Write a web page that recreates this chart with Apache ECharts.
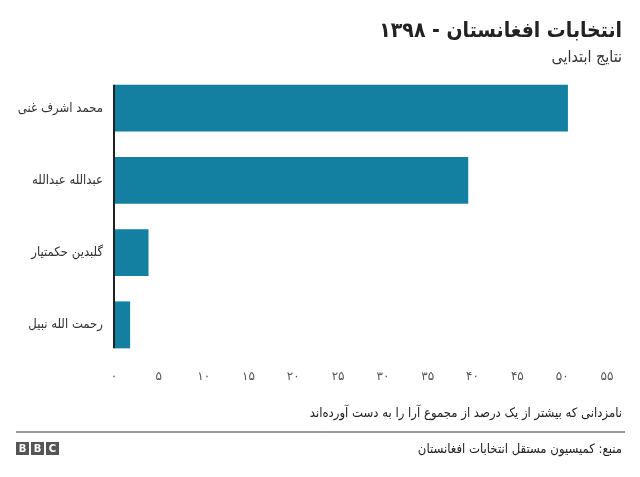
<!DOCTYPE html>
<html>
<head>
<meta charset="utf-8">
<script src="https://cdn.jsdelivr.net/npm/echarts@6/dist/echarts.min.js"></script>
<style>
  html, body { margin: 0; padding: 0; background: #fff; }
  #Chart { width: 640px; height: 477px; }
</style>
</head>
<body>
<div id="Chart"></div>
<script>
// candidates, top to bottom
var categories = ['محمد اشرف غنی', 'عبدالله عبدالله', 'گلبدین حکمتیار', 'رحمت الله نبیل'];
// share of votes, percent
var votes = [50.64, 39.52, 3.85, 1.8];
// x axis labels, 0..55 step 5, Persian digits
var tickLabels = ['۰', '۵', '۱۰', '۱۵', '۲۰', '۲۵', '۳۰', '۳۵', '۴۰', '۴۵', '۵۰', '۵۵'];

var titleText = 'انتخابات افغانستان - ۱۳۹۸';
var subText = 'نتایج ابتدایی';
var noteText = 'نامزدانی که بیشتر از یک درصد از مجموع آرا را به دست آورده‌اند';
var sourceText = 'منبع: کمیسیون مستقل انتخابات افغانستان';

var font = '"DejaVu Sans", "Noto Sans", sans-serif';
var condensed = '"DejaVu Sans Condensed", "DejaVu Sans", sans-serif';
var barColor = '#1380A1';
var barPct = 0.65;

var myChart = echarts.init(document.getElementById('Chart'), null, {renderer: 'canvas'});

var option = {
    animation: false,
    backgroundColor: '#fff',
    textStyle: { fontFamily: font },
    title: [{
        text: titleText,
        right: 18,
        top: 21,
        padding: 0,
        textStyle: { fontSize: 21, fontWeight: 'bold', color: '#222', fontFamily: condensed }
    }, {
        text: subText,
        right: 18,
        top: 50,
        padding: 0,
        textStyle: { fontSize: 16, fontWeight: 'normal', color: '#333', fontFamily: condensed }
    }, {
        text: noteText,
        right: 18,
        top: 407,
        padding: 0,
        textStyle: { fontSize: 13, fontWeight: 'normal', color: '#222', fontFamily: condensed }
    }, {
        text: sourceText,
        right: 18,
        top: 443,
        padding: 0,
        textStyle: { fontSize: 13, fontWeight: 'normal', color: '#222', fontFamily: condensed }
    }],
    grid: {
        left: 114,
        right: 33,
        top: 72,
        bottom: 116,
        containLabel: false
    },
    xAxis: {
        type: 'value',
        min: 0,
        max: 55,
        interval: 5,
        axisLine: { show: false },
        axisTick: { show: false },
        splitLine: { show: false },
        axisLabel: {
            margin: 10,
            fontSize: 12,
            color: '#555',
            fontFamily: font,
            formatter: function (val) {
                return tickLabels[Math.round(val / 5)];
            }
        }
    },
    yAxis: {
        type: 'category',
        data: categories,
        inverse: true,
        axisLine: { show: false },
        axisTick: { show: false },
        axisLabel: {
            margin: 11,
            fontSize: 13,
            color: '#333',
            fontFamily: condensed
        }
    },
    series: [{
        type: 'bar',
        data: votes,
        barWidth: (barPct * 100) + '%',
        itemStyle: { color: barColor },
        silent: true
    }]
};

myChart.setOption(option);

// vertical baseline only as tall as the bars, taken from the axis scales
var x0 = myChart.convertToPixel({xAxisIndex: 0}, 0);
var yFirst = myChart.convertToPixel({yAxisIndex: 0}, categories[0]);
var yLast = myChart.convertToPixel({yAxisIndex: 0}, categories[categories.length - 1]);
var band = (yLast - yFirst) / (categories.length - 1);
var half = band * barPct / 2;

function logoBox(x, letter) {
    return {
        type: 'group',
        left: x,
        top: 442,
        children: [{
            type: 'rect',
            shape: { x: 0, y: 0, width: 13, height: 13 },
            style: { fill: '#555' }
        }, {
            type: 'text',
            x: 6.5,
            y: 7,
            style: {
                text: letter,
                fill: '#fff',
                font: 'bold 10px "DejaVu Sans", sans-serif',
                align: 'center',
                verticalAlign: 'middle'
            }
        }]
    };
}

myChart.setOption({
    graphic: [{
        type: 'line',
        shape: { x1: x0, y1: yFirst - half, x2: x0, y2: yLast + half },
        style: { stroke: '#222', lineWidth: 2 },
        z: 10
    }, {
        type: 'line',
        shape: { x1: 16, y1: 432, x2: 625, y2: 432 },
        style: { stroke: '#333', lineWidth: 1 }
    },
    logoBox(16, 'B'),
    logoBox(31, 'B'),
    logoBox(46, 'C')]
});
</script>
</body>
</html>
